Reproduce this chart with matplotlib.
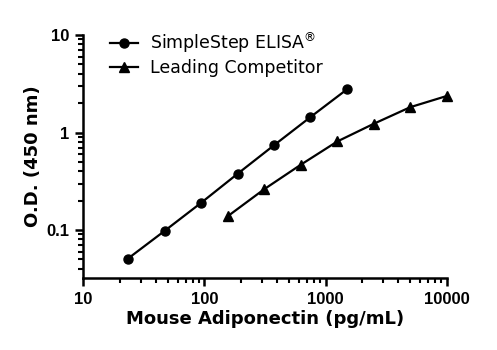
import matplotlib
matplotlib.use("Agg")
import matplotlib.pyplot as plt
from matplotlib.ticker import LogLocator, FixedLocator, NullFormatter

simple_x = [23.4, 46.9, 93.8, 187.5, 375, 750, 1500]
simple_y = [0.051, 0.098, 0.19, 0.377, 0.74, 1.44, 2.77]
comp_x = [156.25, 312.5, 625, 1250, 2500, 5000, 10000]
comp_y = [0.139, 0.263, 0.468, 0.81, 1.23, 1.82, 2.37]
x_ticks = [10, 100, 1000, 10000]
x_ticklabels = ["10", "100", "1000", "10000"]
y_ticks = [0.1, 1, 10]
y_ticklabels = ["0.1", "1", "10"]

fig = plt.figure(figsize=(4.97, 3.5), dpi=100)
ax = fig.add_axes([0.1676, 0.2049, 0.7312, 0.695])

ax.plot(simple_x, simple_y, color="black", lw=1.6, marker="o", ms=6.5,
        label=r"SimpleStep ELISA$^{\mathrm{®}}$", clip_on=False)
ax.plot(comp_x, comp_y, color="black", lw=1.6, marker="^", ms=7,
        label="Leading Competitor", clip_on=False)

ax.set_xscale("log")
ax.set_yscale("log")
ax.set_xlim(10, 10000)
ax.set_ylim(0.032, 10)

for s in ["top", "right"]:
    ax.spines[s].set_visible(False)
for s in ["left", "bottom"]:
    ax.spines[s].set_linewidth(1.8)

ax.xaxis.set_major_locator(FixedLocator(x_ticks))
ax.yaxis.set_major_locator(FixedLocator(y_ticks))
ax.set_xticklabels(x_ticklabels)
ax.set_yticklabels(y_ticklabels)
ax.xaxis.set_minor_locator(LogLocator(base=10, subs=range(2, 10)))
ax.yaxis.set_minor_locator(LogLocator(base=10, subs=range(2, 10)))
ax.xaxis.set_minor_formatter(NullFormatter())
ax.yaxis.set_minor_formatter(NullFormatter())
ax.tick_params(which="major", direction="out", length=6, width=1.8, pad=4)
ax.tick_params(which="minor", direction="out", length=3.5, width=1.5)
for lab in ax.get_xticklabels() + ax.get_yticklabels():
    lab.set_fontfamily("Liberation Sans")
    lab.set_fontweight("bold")
    lab.set_fontsize(12)

ax.set_xlabel("Mouse Adiponectin (pg/mL)", fontsize=13, fontweight="bold",
              fontfamily="DejaVu Sans", labelpad=2)
ax.set_ylabel("O.D. (450 nm)", fontsize=13, fontweight="bold",
              fontfamily="DejaVu Sans", labelpad=3)

leg = ax.legend(loc="upper left", bbox_to_anchor=(0.03, 1.085), frameon=False,
                prop={"family": "DejaVu Sans", "size": 12.5}, handlelength=1.6,
                handletextpad=0.7, labelspacing=0.25)

fig.savefig("out.png", dpi=100)
